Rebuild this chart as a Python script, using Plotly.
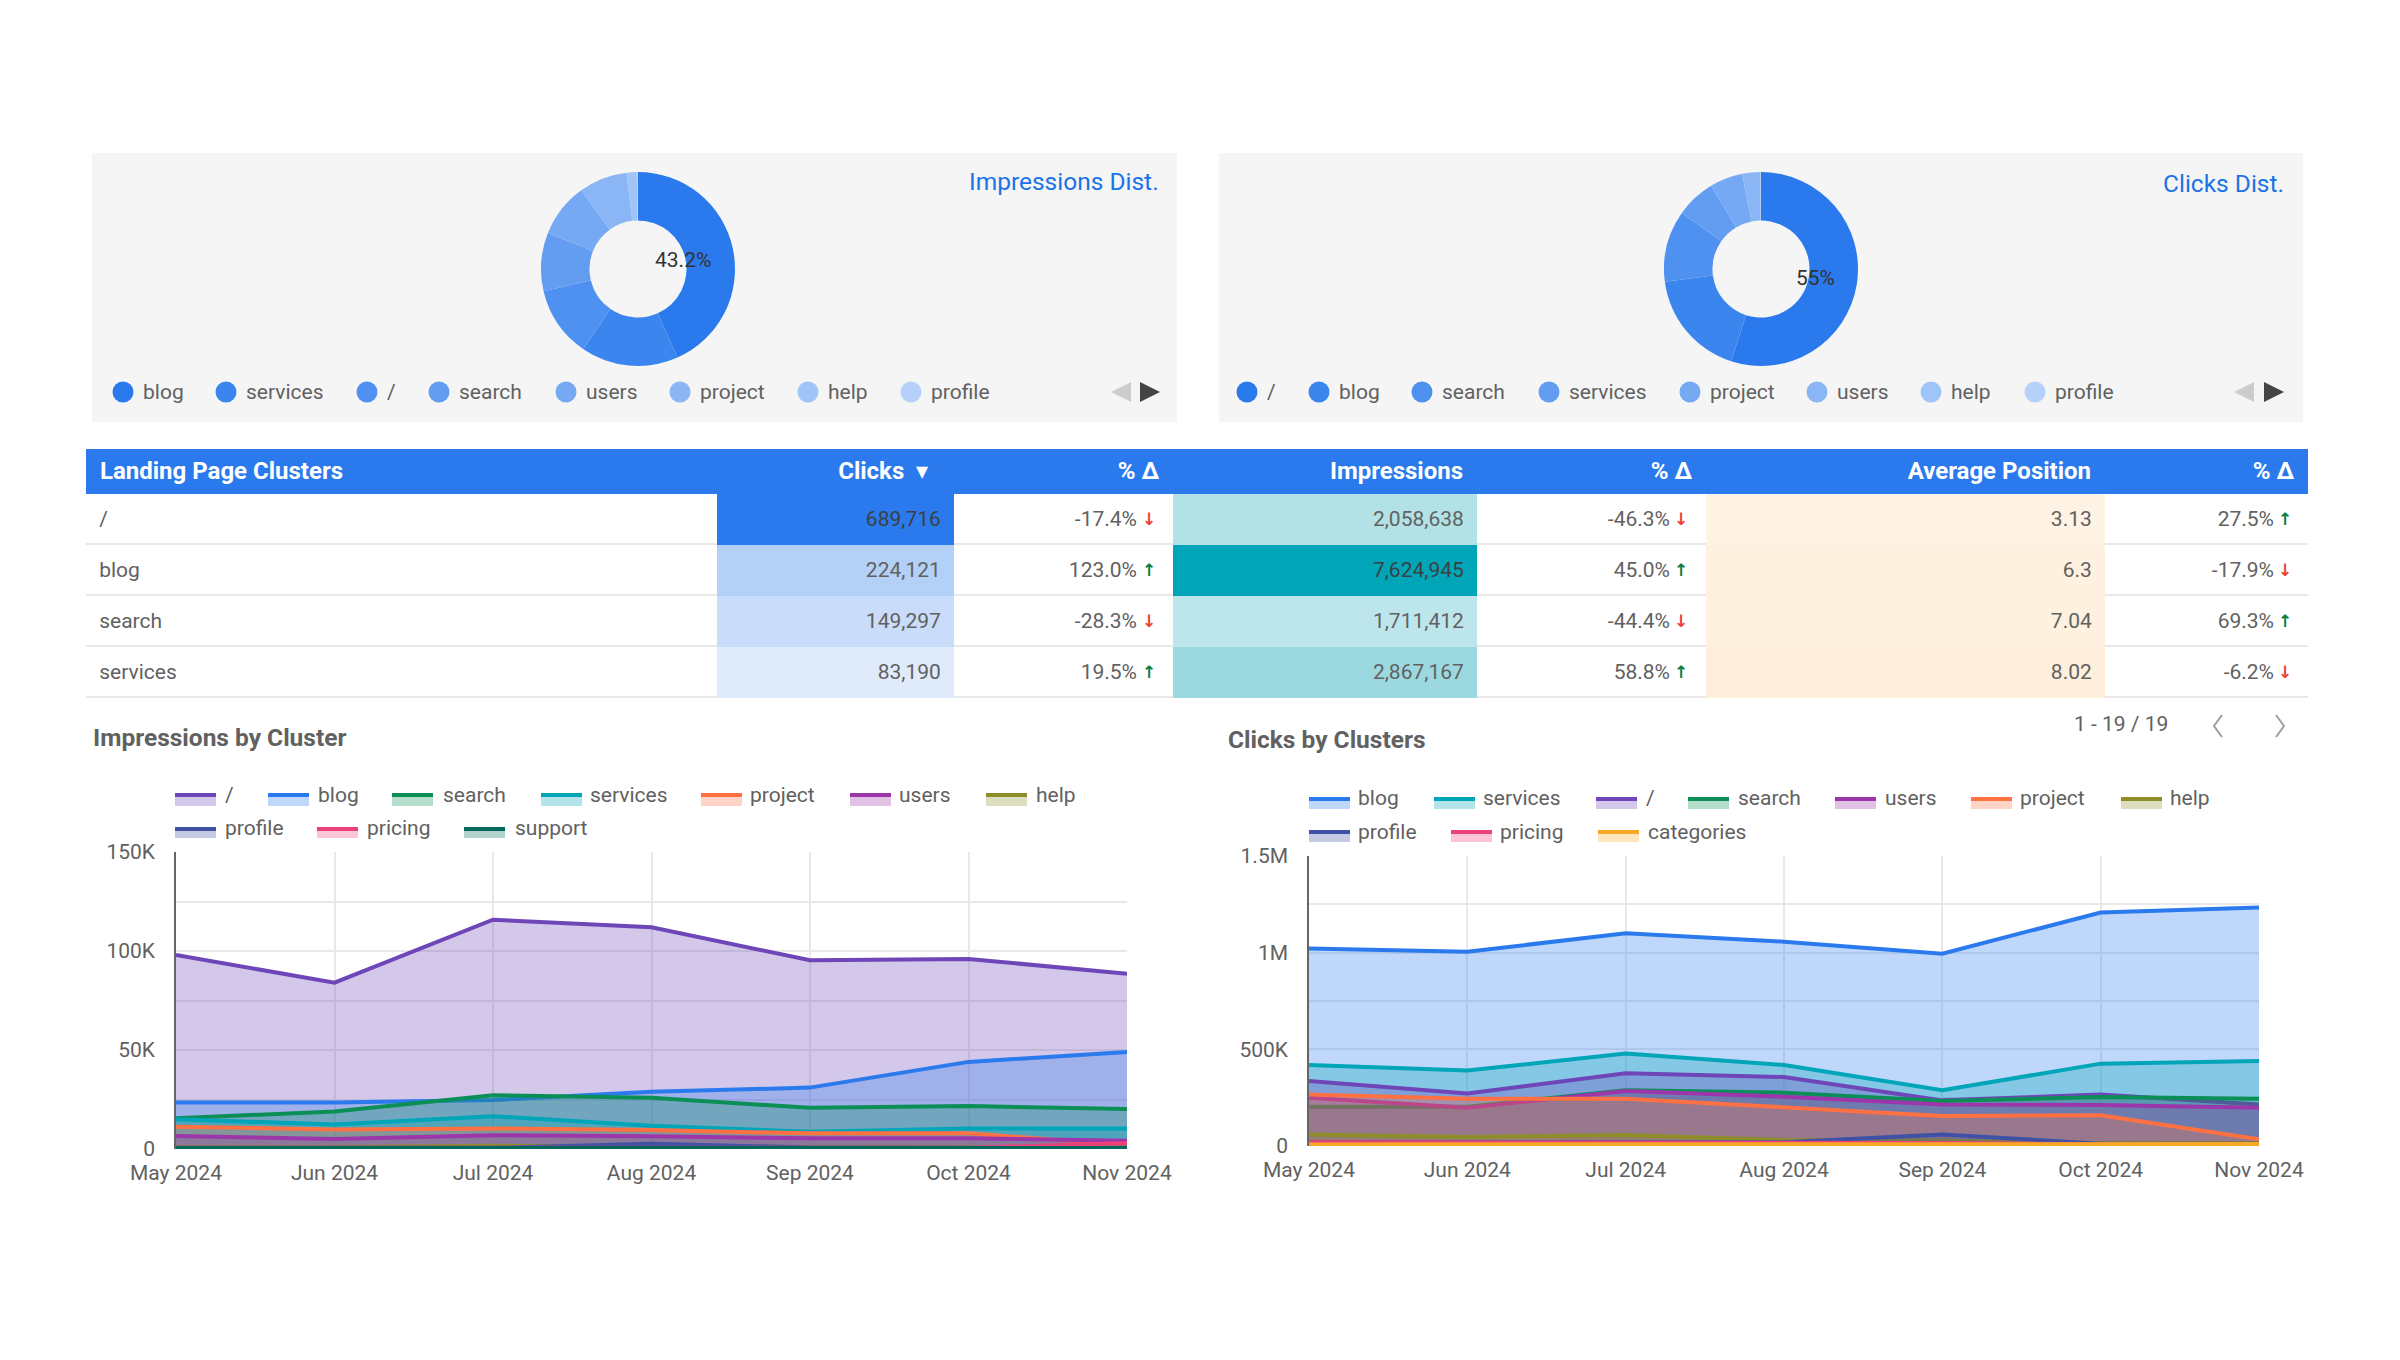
import plotly.graph_objects as go

W, H = 2384, 1344
FONT = "Roboto"
GRAY = "#616161"
DARK = "#3c4043"

months = ["May 2024", "Jun 2024", "Jul 2024", "Aug 2024", "Sep 2024", "Oct 2024", "Nov 2024"]

# donuts
imp_dist_names = ["blog", "services", "/", "search", "users", "project", "help", "profile"]
imp_dist_values = [43.2, 16.2, 11.7, 9.7, 9.0, 8.0, 1.7, 0.2]
click_dist_names = ["/", "blog", "search", "services", "project", "users", "help", "profile"]
click_dist_values = [55, 17.9, 11.9, 6.6, 5.5, 3.0, 0.06, 0.04]
dist_colors = ["#2a7aee", "#3b85ef", "#4f91f0", "#629df2", "#75a9f3", "#8ab6f5", "#9fc4f7", "#b5d1f9"]

# table
clusters = ["/", "blog", "search", "services"]
clicks = [689716, 224121, 149297, 83190]
clicks_delta = [-17.4, 123.0, -28.3, 19.5]
impressions = [2058638, 7624945, 1711412, 2867167]
impressions_delta = [-46.3, 45.0, -44.4, 58.8]
avg_position = ["3.13", "6.3", "7.04", "8.02"]
avg_position_delta = [27.5, -17.9, 69.3, -6.2]
clicks_fill = ["#2a7aee", "#b3d0f7", "#c9dcf9", "#dfeafb"]
impressions_fill = ["#b2e1e6", "#00a5b8", "#bde6ec", "#9cd8e0"]
position_fill = ["#fef3e4", "#fef1e0", "#fef1e0", "#fdefdc"]

# impressions by cluster
imp_root = [98000, 84000, 115800, 112000, 95300, 96000, 88500]
imp_blog = [23500, 23500, 24700, 28900, 31000, 44000, 49000]
imp_search = [15500, 19000, 27200, 25900, 20800, 21700, 20200]
imp_services = [15000, 12400, 16600, 11800, 8700, 10400, 10400]
imp_project = [11300, 9900, 10400, 9600, 7900, 7900, 2000]
imp_users = [6600, 5000, 7000, 6500, 5400, 5400, 4200]
imp_help = [1000, 1000, 1600, 1200, 1000, 1000, 1000]
imp_profile = [600, 600, 600, 2600, 800, 600, 600]
imp_pricing = [600, 600, 600, 600, 600, 600, 3000]
imp_support = [500, 500, 500, 500, 500, 500, 500]

# clicks by clusters
clk_blog = [1022000, 1005000, 1100000, 1057000, 995000, 1208000, 1233000]
clk_services = [419000, 391000, 478000, 419000, 288000, 426000, 440000]
clk_root = [336000, 272000, 376000, 357000, 236000, 267000, 215000]
clk_search = [203000, 203000, 288000, 276000, 233000, 253000, 245000]
clk_users = [250000, 198000, 284000, 255000, 215000, 212000, 198000]
clk_project = [267000, 245000, 245000, 198000, 155000, 159000, 35000]
clk_help = [60000, 47000, 57000, 31000, 29000, 14000, 16000]
clk_profile = [20000, 20000, 20000, 20000, 60000, 12000, 12000]
clk_pricing = [20000, 20000, 20000, 20000, 16000, 9000, 9000]
clk_categories = [8000, 8000, 8000, 8000, 8000, 8000, 10000]

imp_ticks = [0, 25000, 50000, 75000, 100000, 125000, 150000]
imp_tick_text = ["0", "", "50K", "", "100K", "", "150K"]
clk_ticks = [0, 250000, 500000, 750000, 1000000, 1250000, 1500000]
clk_tick_text = ["0", "", "500K", "", "1M", "", "1.5M"]

series_colors = {
    "/": (110, 70, 184), "blog": (42, 122, 238), "search": (11, 143, 87),
    "services": (0, 165, 184), "project": (255, 112, 67), "users": (156, 54, 170),
    "help": (141, 141, 42), "profile": (63, 81, 165), "pricing": (236, 64, 122),
    "support": (0, 105, 92), "categories": (249, 168, 37),
}

imp_series = [("/", imp_root), ("blog", imp_blog), ("search", imp_search), ("services", imp_services),
              ("project", imp_project), ("users", imp_users), ("help", imp_help),
              ("profile", imp_profile), ("pricing", imp_pricing), ("support", imp_support)]
clk_series = [("blog", clk_blog), ("services", clk_services), ("/", clk_root), ("search", clk_search),
              ("users", clk_users), ("project", clk_project), ("help", clk_help),
              ("profile", clk_profile), ("pricing", clk_pricing), ("categories", clk_categories)]


# page has the browser's 8px body margin, so all positions are shifted by it
def px(x):
    return (x - 8) / W


def py(y):
    return 1 - (y - 8) / H


def rgb(c, a=1):
    return f"rgba({c[0]},{c[1]},{c[2]},{a})"


def label(x, y, text, size=21, color=GRAY, anchor="left", family=FONT):
    return dict(x=px(x), y=py(y), xref="paper", yref="paper", text=text, showarrow=False,
                xanchor=anchor, yanchor="middle", font=dict(family=family, size=size, color=color))


def box(x0, y0, x1, y1, color):
    return dict(type="rect", xref="paper", yref="paper", x0=px(x0), x1=px(x1), y0=py(y0), y1=py(y1),
                fillcolor=color, line=dict(width=0), layer="below")


def poly(points, color=None, line=None):
    path = "M " + " L ".join(f"{px(a)} {py(b)}" for a, b in points)
    if color:
        return dict(type="path", xref="paper", yref="paper", path=path + " Z", fillcolor=color, line=dict(width=0))
    return dict(type="path", xref="paper", yref="paper", path=path, line=dict(color=line, width=2))


fig = go.Figure()
shapes = []
annotations = []

# top panels with donuts
shapes.append(box(92, 153, 1177, 422, "#f5f5f5"))
shapes.append(box(1219, 153, 2303, 422, "#f5f5f5"))
for names, values, cx in [(imp_dist_names, imp_dist_values, 638), (click_dist_names, click_dist_values, 1761)]:
    fig.add_trace(go.Pie(
        labels=names, values=values, sort=False, direction="clockwise", rotation=0, hole=0.5,
        marker=dict(colors=dist_colors, line=dict(width=0)), textinfo="none", showlegend=False,
        domain=dict(x=[px(cx - 97), px(cx + 97)], y=[py(366), py(172)]),
    ))

annotations.append(label(683, 260, f"{imp_dist_values[0]}%", color="#333333", anchor="center"))
annotations.append(label(1815, 278, f"{click_dist_values[0]}%", color="#333333", anchor="center"))
annotations.append(label(1161, 182, "Impressions Dist.", size=24.5, color="#1a73e8", anchor="right"))
annotations.append(label(2286, 183, "Clicks Dist.", size=24.5, color="#1a73e8", anchor="right"))

imp_legend_dots = [123, 226, 367, 439, 566, 680, 808, 911]
click_legend_dots = [1247, 1319, 1422, 1549, 1690, 1817, 1931, 2035]
for names, dots in [(imp_dist_names, imp_legend_dots), (click_dist_names, click_legend_dots)]:
    for name, x, color in zip(names, dots, dist_colors):
        shapes.append(dict(type="circle", xref="paper", yref="paper", x0=px(x - 10.5), x1=px(x + 10.5),
                           y0=py(402.5), y1=py(381.5), fillcolor=color, line=dict(width=0)))
        annotations.append(label(x + 18, 392, name))

for x_left, x_right in [(1121, 1150), (2244, 2274)]:
    shapes.append(poly([(x_left + 10, 382), (x_left + 10, 402), (x_left - 10, 392)], color="#cccccc"))
    shapes.append(poly([(x_right - 10, 382), (x_right - 10, 402), (x_right + 10, 392)], color="#444444"))

# table: fills and header in one trace, cell texts in a second one on top
# because a table trace can only put its text at the top of the cell
blank = [""] * 4
clear = "rgba(0,0,0,0)"
fig.add_trace(go.Table(
    domain=dict(x=[px(86), px(2308)], y=[py(705), py(449)]),
    columnwidth=[631, 237, 219, 304, 229, 399, 203],
    header=dict(
        values=["\u00a0<b>Landing Page Clusters</b>", "<b>Clicks</b>\u00a0\u00a0▾\u00a0\u00a0\u00a0", "<b>%\u00a0Δ</b>\u00a0",
                "<b>Impressions</b>\u00a0", "<b>%\u00a0Δ</b>\u00a0", "<b>Average\u00a0Position</b>\u00a0", "<b>%\u00a0Δ</b>\u00a0"],
        align=["left"] + ["right"] * 6, height=45, fill_color="#2a7aee", line=dict(width=0),
        font=dict(family=FONT, size=24, color="white"),
    ),
    cells=dict(
        values=[blank] * 7, height=51, line=dict(width=0),
        fill_color=[[clear] * 4, clicks_fill, [clear] * 4, impressions_fill, [clear] * 4, position_fill, [clear] * 4],
    ),
))
fig.add_trace(go.Table(
    domain=dict(x=[px(86), px(2308)], y=[py(705), py(456)]),
    columnwidth=[631, 237, 191, 28, 304, 201, 28, 399, 177, 26],
    header=dict(values=[""] * 10, height=46, fill_color=clear, line=dict(width=0)),
    cells=dict(
        values=[
            ["\u00a0" + c for c in clusters],
            [f"{v:,}\u00a0" for v in clicks],
            [f"{v:.1f}%" for v in clicks_delta],
            blank,
            [f"{v:,}\u00a0" for v in impressions],
            [f"{v:.1f}%" for v in impressions_delta],
            blank,
            [v + "\u00a0" for v in avg_position],
            [f"{v:.1f}%" for v in avg_position_delta],
            blank,
        ],
        align=["left"] + ["right"] * 9, height=51, line=dict(width=0), fill_color=clear,
        font=dict(family=FONT, size=21, color=[
            [GRAY] * 4, [DARK, GRAY, GRAY, GRAY], [GRAY] * 4, [GRAY] * 4, [GRAY, DARK, GRAY, GRAY],
            [GRAY] * 4, [GRAY] * 4, [GRAY] * 4, [GRAY] * 4, [GRAY] * 4,
        ]),
    ),
))
for y in [544, 595, 646, 697]:
    shapes.append(box(86, y - 1, 2308, y + 1, "#e8e8e8"))

# trend arrows next to the % cells
for deltas, x in [(clicks_delta, 1149), (impressions_delta, 1681), (avg_position_delta, 2285)]:
    for v, y in zip(deltas, [519, 570, 621, 672]):
        annotations.append(label(x, y, "<b>↑</b>" if v > 0 else "<b>↓</b>", size=17, family="DejaVu Sans",
                                 color="#0b8043" if v > 0 else "#ea4335", anchor="center"))

annotations.append(label(2170, 724, "1 - 19 / 19", anchor="right"))
shapes.append(poly([(2222, 715), (2214, 726), (2222, 737)], line="#9e9e9e"))
shapes.append(poly([(2276, 715), (2284, 726), (2276, 737)], line="#9e9e9e"))

annotations.append(label(91, 737, "<b>Impressions by Cluster</b>", size=24.5))
annotations.append(label(1226, 740, "<b>Clicks by Clusters</b>", size=24.5))

# area charts
for series, xa, ya in [(imp_series, "x", "y"), (clk_series, "x2", "y2")]:
    for name, values in series:
        c = series_colors[name]
        fig.add_trace(go.Scatter(
            x=months, y=values, name=name, mode="lines", fill="tozeroy", xaxis=xa, yaxis=ya,
            line=dict(color=rgb(c), width=4), fillcolor=rgb(c, 0.3), showlegend=False,
        ))


def legend_row(items, y_text, y_top, y_bottom):
    for name, x_swatch, x_text in items:
        c = series_colors[name]
        shapes.append(dict(type="rect", xref="paper", yref="paper", x0=px(x_swatch), x1=px(x_swatch + 41),
                           y0=py(y_bottom), y1=py(y_top), fillcolor=rgb(c, 0.3), line=dict(width=0)))
        shapes.append(dict(type="rect", xref="paper", yref="paper", x0=px(x_swatch), x1=px(x_swatch + 41),
                           y0=py(y_top + 4), y1=py(y_top), fillcolor=rgb(c), line=dict(width=0)))
        annotations.append(label(x_text - 3, y_text, name))


legend_row([("/", 175, 226), ("blog", 268, 319), ("search", 392, 444), ("services", 541, 591),
            ("project", 701, 751), ("users", 850, 900), ("help", 986, 1037)], 795, 793, 806)
legend_row([("profile", 175, 226), ("pricing", 317, 368), ("support", 464, 516)], 828, 827, 838)
legend_row([("blog", 1309, 1359), ("services", 1434, 1484), ("/", 1596, 1647), ("search", 1688, 1739),
            ("users", 1835, 1886), ("project", 1971, 2021), ("help", 2121, 2171)], 798, 797, 809)
legend_row([("profile", 1309, 1359), ("pricing", 1451, 1501), ("categories", 1598, 1649)], 832, 830, 842)

grid = "#e8e8e8"
x_common = dict(type="category", categoryorder="array", categoryarray=months, range=[0, 6], showgrid=True,
                gridcolor=grid, gridwidth=1.5, showline=False, zeroline=False, ticks="", ticklabelstandoff=9,
                tickangle=0, tickfont=dict(family=FONT, size=21, color=GRAY))
y_common = dict(showgrid=True, gridcolor=grid, gridwidth=1.5, showline=True, linecolor="#666666", linewidth=1.5,
                zeroline=False, ticks="", ticklabelstandoff=15, tickfont=dict(family=FONT, size=21, color=GRAY))

fig.update_layout(
    width=W, height=H, margin=dict(l=0, r=0, t=0, b=0, autoexpand=False), autosize=False,
    paper_bgcolor="white", plot_bgcolor="white", showlegend=False, font=dict(family=FONT),
    shapes=shapes, annotations=annotations,
    xaxis=dict(domain=[px(176), px(1127)], anchor="y", **x_common),
    yaxis=dict(domain=[py(1149), py(852)], anchor="x", range=[0, 150000], tickvals=imp_ticks, ticktext=imp_tick_text, **y_common),
    xaxis2=dict(domain=[px(1309), px(2259)], anchor="y2", **x_common),
    yaxis2=dict(domain=[py(1146), py(856)], anchor="x2", range=[0, 1500000], tickvals=clk_ticks, ticktext=clk_tick_text, **y_common),
)

fig.write_html("out.html")
